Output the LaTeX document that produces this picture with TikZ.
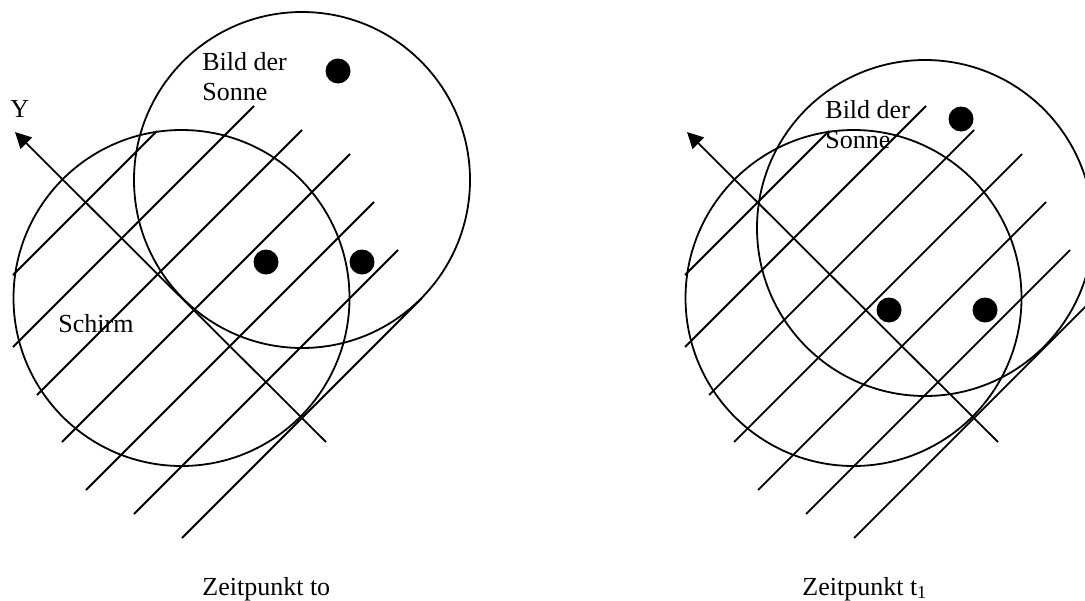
\documentclass[tikz,border=0pt]{standalone}
\usepackage{fontspec}
\setmainfont{Liberation Serif}
\usetikzlibrary{arrows.meta}
\begin{document}
\begin{tikzpicture}[x=0.5pt,y=-0.5pt,
  ln/.style={line width=0.9pt},
  sundot/.style={circle,fill=black,inner sep=0pt,minimum size=12.5pt},
  lbl/.style={anchor=base west,inner sep=0pt,font=\fontsize{13}{15}\selectfont},
  axisarrow/.style={ln,-{Triangle[length=8pt,width=8pt]}}]
\useasboundingbox (0,0) rectangle (1085,600);
\clip (0,0) rectangle (1085,600);
% screen groups (Schirm circle, hatching, Y axis)
\foreach \p/\dx in {A/0,B/672}{
  \begin{scope}[shift={(\dx,0)}]
    \draw[ln] (181.5,298) circle[radius=168];
    \foreach \i/\xs/\xe/\c in {1/13/157/288,2/13/254/360,3/37/302/432,4/62/350/504,5/86/374/576,6/134/398/648,7/182/422/720}{
      \coordinate (\p-h\i s) at (\xs,\c-\xs);
      \coordinate (\p-h\i e) at (\xe,\c-\xe);
      \draw[ln] (\p-h\i s) -- (\p-h\i e);
    }
    \coordinate (\p-ystart) at (326,442);
    \coordinate (\p-ytip) at (15,132);
    \draw[axisarrow] (\p-ystart) -- (\p-ytip);
  \end{scope}
}
% sun image groups
\foreach \p/\dx/\dy in {A/0/0,B/623/48}{
  \begin{scope}[shift={(\dx,\dy)}]
    \draw[ln] (302,180) circle[radius=168];
    \node[sundot] (\p-dot1) at (338,71) {};
    \node[sundot] (\p-dot2) at (266,262) {};
    \node[sundot] (\p-dot3) at (362,262) {};
    \node[lbl] (\p-bild) at (202,70) {Bild der};
    \node[lbl] (\p-sonne) at (202,100) {Sonne};
  \end{scope}
}
\node[lbl] (ylabel) at (10,117) {Y};
\node[lbl] (schirm) at (58,332) {Schirm};
\node[lbl] (zeit0) at (202,595) {Zeitpunkt to};
\node[lbl] (zeit1) at (802,595) {Zeitpunkt t\textsubscript{1}};
\end{tikzpicture}
\end{document}
